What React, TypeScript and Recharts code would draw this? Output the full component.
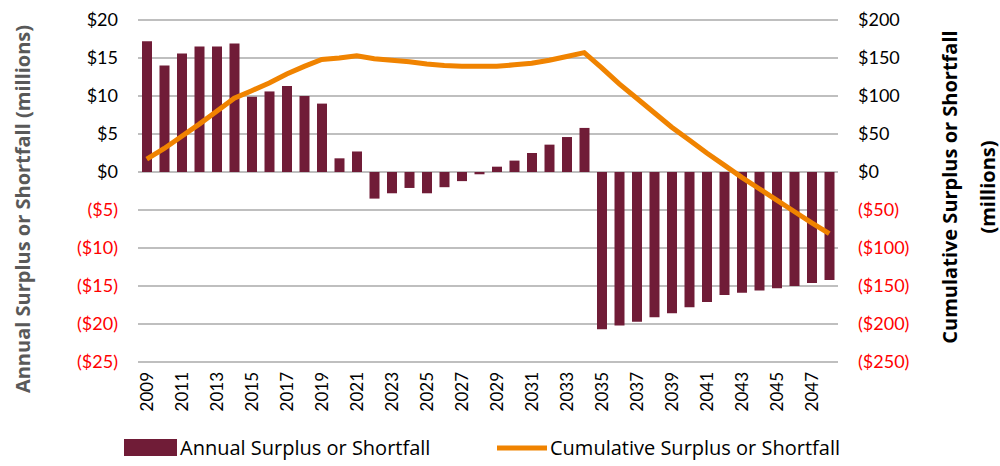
import {
  Bar,
  CartesianGrid,
  ComposedChart,
  Legend,
  Line,
  XAxis,
  YAxis,
} from "recharts";

const years = [
  2009, 2010, 2011, 2012, 2013, 2014, 2015, 2016, 2017, 2018, 2019, 2020, 2021,
  2022, 2023, 2024, 2025, 2026, 2027, 2028, 2029, 2030, 2031, 2032, 2033, 2034,
  2035, 2036, 2037, 2038, 2039, 2040, 2041, 2042, 2043, 2044, 2045, 2046, 2047,
  2048,
];

// annual surplus / shortfall, $ millions (left axis)
const annual = [
  17.2, 14.0, 15.6, 16.5, 16.5, 16.9, 9.9, 10.6, 11.3, 10.0, 9.0, 1.8, 2.7,
  -3.5, -2.8, -2.1, -2.8, -2.0, -1.2, -0.3, 0.7, 1.5, 2.5, 3.6, 4.6, 5.8,
  -20.7, -20.2, -19.7, -19.1, -18.6, -17.8, -17.1, -16.2, -15.9, -15.6, -15.3,
  -15.0, -14.6, -14.2,
];

// cumulative surplus / shortfall, $ millions (right axis)
const cumulative = [
  17, 31, 47, 63, 80, 97, 107, 117, 129, 139, 148, 150, 153, 149, 147, 145, 142,
  140, 139, 139, 139, 141, 143, 147, 152, 157, 137, 116, 97, 78, 59, 42, 25, 9,
  -7, -22, -37, -52, -67, -81,
];

const leftTicks = [-25, -20, -15, -10, -5, 0, 5, 10, 15, 20];
const rightTicks = [-250, -200, -150, -100, -50, 0, 50, 100, 150, 200];

const data = years.map((y, i) => ({
  year: y,
  annual: annual[i],
  cumulative: cumulative[i],
}));

const FONT = "Lato, 'Open Sans', sans-serif";
const WIDE = "'Open Sans', Lato, sans-serif";
const BAR = "#701C37";
const LINE = "#F08300";

const money = (v: number) => (v < 0 ? `($${-v})` : `$${v}`);

function LeftTick(props: any) {
  const { x, y, payload } = props;
  const v = payload.value as number;
  return (
    <text
      x={x - 12}
      y={y}
      dy="0.35em"
      textAnchor="end"
      fontFamily={FONT}
      fontSize={18}
      fill={v < 0 ? "#FF0000" : "#000"}
    >
      {money(v)}
    </text>
  );
}

function RightTick(props: any) {
  const { x, y, payload } = props;
  const v = payload.value as number;
  return (
    <text
      x={x + 12}
      y={y}
      dy="0.35em"
      textAnchor="start"
      fontFamily={FONT}
      fontSize={18}
      fill={v < 0 ? "#FF0000" : "#000"}
    >
      {money(v)}
    </text>
  );
}

function YearTick(props: any) {
  const { x, y, payload } = props;
  return (
    <g transform={`translate(${x},${y + 2})`}>
      <text
        transform="rotate(-90)"
        textAnchor="end"
        dy="0.35em"
        fontFamily={FONT}
        fontSize={17}
        fill="#000"
      >
        {payload.value}
      </text>
    </g>
  );
}

function LegendBox() {
  return (
    <svg width={1000} height={36} style={{ display: "block" }}>
      <rect x={124} y={9} width={53} height={17} fill={BAR} />
      <text x={180} y={18} dy="0.35em" fontFamily={WIDE} fontSize={20} fill="#000">
        Annual Surplus or Shortfall
      </text>
      <line x1={497} x2={547} y1={18} y2={18} stroke={LINE} strokeWidth={5} />
      <text x={550} y={18} dy="0.35em" fontFamily={WIDE} fontSize={20} fill="#000">
        Cumulative Surplus or Shortfall
      </text>
    </svg>
  );
}

export default function App() {
  return (
    <div style={{ position: "absolute", left: 0, top: 0, width: 1000, height: 466, background: "#fff" }}>
      <ComposedChart
        width={1000}
        height={466}
        data={data}
        margin={{ top: 20, right: 10, bottom: 0, left: 0 }}
        barCategoryGap={0}
      >
        <CartesianGrid
          yAxisId="left"
          vertical={false}
          stroke="#BFBFBF"
          strokeWidth={2}
        />
        <XAxis
          dataKey="year"
          interval={1}
          tick={<YearTick />}
          tickLine={false}
          axisLine={false}
          height={68}
        />
        <YAxis
          yAxisId="left"
          domain={[-25, 20]}
          ticks={leftTicks}
          tick={<LeftTick />}
          tickLine={false}
          axisLine={false}
          width={138}
          label={{
            content: () => (
              <text
                x={23}
                y={209}
                transform="rotate(-90, 23, 209)"
                textAnchor="middle"
                dy="0.35em"
                fontFamily={WIDE}
                fontWeight="bold"
                fontSize={20}
                fill="#595959"
              >
                Annual Surplus or Shortfall (millions)
              </text>
            ),
          }}
        />
        <YAxis
          yAxisId="right"
          orientation="right"
          domain={[-250, 200]}
          ticks={rightTicks}
          tick={<RightTick />}
          tickLine={false}
          axisLine={false}
          width={152}
          label={{
            content: () => (
              <g>
                <text
                  x={950}
                  y={187}
                  transform="rotate(-90, 950, 187)"
                  textAnchor="middle"
                  dy="0.35em"
                  fontFamily={WIDE}
                  fontWeight="bold"
                  fontSize={20}
                  fill="#000"
                >
                  Cumulative Surplus or Shortfall
                </text>
                <text
                  x={988}
                  y={187}
                  transform="rotate(-90, 988, 187)"
                  textAnchor="middle"
                  dy="0.35em"
                  fontFamily={WIDE}
                  fontWeight="bold"
                  fontSize={20}
                  fill="#000"
                >
                  (millions)
                </text>
              </g>
            ),
          }}
        />
        <Legend
          verticalAlign="bottom"
          height={36}
          content={() => <LegendBox />}
          wrapperStyle={{ left: 0, width: 1000 }}
        />
        <Bar
          yAxisId="left"
          dataKey="annual"
          name="Annual Surplus or Shortfall"
          fill={BAR}
          barSize={10}
          isAnimationActive={false}
        />
        <Line
          yAxisId="right"
          dataKey="cumulative"
          name="Cumulative Surplus or Shortfall"
          type="linear"
          stroke={LINE}
          strokeWidth={5}
          dot={false}
          isAnimationActive={false}
        />
      </ComposedChart>
    </div>
  );
}
